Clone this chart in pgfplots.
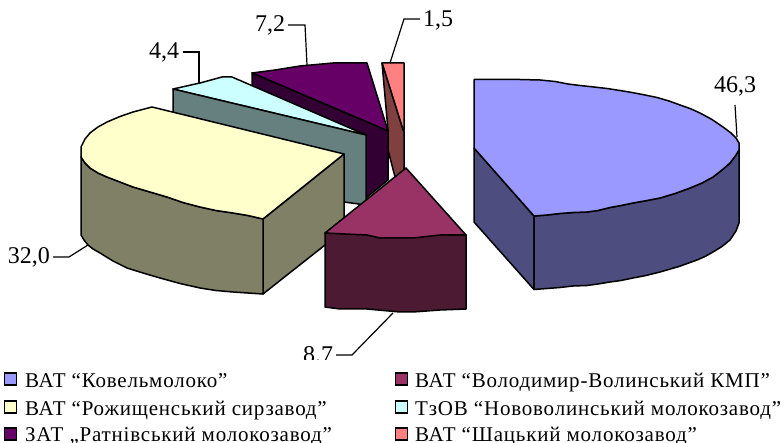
\documentclass[border=0pt]{standalone}
\usepackage{pgfplots}
\pgfplotsset{compat=1.18}
\usepackage{fontspec}
\setmainfont{Liberation Serif}
\newfontfamily\legfont[LetterSpace=3.8]{Liberation Serif}
\definecolor{cBlueT}{HTML}{9999FF}
\definecolor{cBlueS}{HTML}{4D4D80}
\definecolor{cCreamT}{HTML}{FFFFCC}
\definecolor{cCreamS}{HTML}{808066}
\definecolor{cCyanT}{HTML}{CCFFFF}
\definecolor{cCyanS}{HTML}{668080}
\definecolor{cPurpT}{HTML}{660066}
\definecolor{cPurpS}{HTML}{330033}
\definecolor{cPinkT}{HTML}{FF8080}
\definecolor{cPinkS}{HTML}{804040}
\definecolor{cMarT}{HTML}{993366}
\definecolor{cMarS}{HTML}{4D1A33}
\newcommand{\leg}[2]{\node[anchor=base west,inner sep=0pt,font=\legfont\fontsize{21}{21}\selectfont] at (axis cs:#1) {#2};}
\newcommand{\val}[2]{\node[font=\fontsize{24}{24}\selectfont,inner sep=0pt] at (axis cs:#1) {#2};}
\pgfplotsset{
  face/.style={draw=black,line width=1.5pt,fill=#1,line join=round,mark=none},
  lead/.style={draw=black,line width=1.2pt,mark=none},
  swatch/.style={only marks,mark=square*,mark size=6pt,mark options={draw=black,line width=1.4pt,fill=#1}}
}
\begin{document}
\begin{tikzpicture}
\clip (0,0) rectangle (781pt,443pt);
\begin{axis}[
  at={(0,0)},anchor=south west,
  scale only axis,width=781pt,height=443pt,
  xmin=0,xmax=781,ymin=0,ymax=443,y dir=reverse,
  hide axis,clip=true
]
% pink slice
\addplot[face=cPinkT] coordinates {(382,63)(404,63)(404,130)(403,130)} -- cycle;
\addplot[face=cPinkS] coordinates {(382,63)(403,130)(404,131)(404,172)(395,177)(388,150)(388,130)} -- cycle;
% purple slice
\addplot[face=cPurpT] coordinates {(252,73)(275,70)(300,66)(333,63)(367,63)(388,131)} -- cycle;
\addplot[face=cPurpS] coordinates {(252,73)(388,131)(388,180)(366,198)(366,135)(252,87)} -- cycle;
% cyan slice
\addplot[face=cCyanT] coordinates {(173,89)(200,83)(222,77)(232,77)(366,135)} -- cycle;
\addplot[face=cCyanS] coordinates {(173,89)(366,135)(366,205)(344,202)(173,150)} -- cycle;
% cream slice
\addplot[face=cCreamS] coordinates {(263,219)(344,154)(344,230)(263,294)} -- cycle;
\addplot[face=cCreamS] coordinates {(81,157)(85,163)(90,168)(98,173)(107,177)(120,182)(133,187)(150,192)(167,197)(183,202.5)(200,207)(216,210.5)(233,213)(248,215.5)(263,219)(263,294)(248,293)(233,292)(216,290.5)(200,288)(180,283.5)(160,278)(143,273)(127,268)(113,261)(100,253)(93,249)(88,245)(84,240)(81,235)} -- cycle;
\addplot[face=cCreamT] coordinates {(152,107)(344,154)(263,219)(248,215.5)(233,213)(216,210.5)(200,207)(183,202.5)(167,197)(150,192)(133,187)(120,182)(107,177)(98,173)(90,168)(85,163)(81,157)(81,147)(85,139)(90,133)(98,127)(107,122)(120,116.5)(133,112)} -- cycle;
% maroon slice
\addplot[face=cMarS] coordinates {(325,233)(466,235)(466,309)(440,310)(413,312)(400,312)(367,309)(340,309)(325,307)} -- cycle;
\addplot[face=cMarT] coordinates {(325,233)(406,168)(466,235)(440,235)(413,238)(380,238)(367,235)(345,234)} -- cycle;
% blue slice
\addplot[face=cBlueS] coordinates {(474,148)(534,216)(534,289.5)(474,222)} -- cycle;
\addplot[face=cBlueS] coordinates {(534,216)(547,215)(560,213.5)(573,212.5)(587,212)(598,210.5)(610,207.5)(621,205.5)(633,203)(647,200.5)(660,198)(675,193.5)(690,188)(702,183)(713,177)(722,170)(730,163)(736,155)(739,150)(739,223)(736,231)(730,240)(722,246.5)(713,252)(705,256.5)(697,260)(679,266.5)(660,272)(646,275.5)(633,278)(621,280.5)(610,282)(598,284)(587,285.5)(573,286)(560,287.5)(547,288.5)(534,289.5)} -- cycle;
\addplot[face=cBlueT] coordinates {(474,79.5)(500,79.5)(520,79.5)(540,80)(555,81.5)(568,84)(580,85.5)(594,87)(607,88.5)(620,90.5)(632,92.5)(645,95)(657,97.5)(669,101)(680,105)(690,108.5)(700,113)(712,119.5)(723,127)(731,133)(736,138)(739,143)(739,150)(736,155)(730,163)(722,170)(713,177)(702,183)(690,188)(675,193.5)(660,198)(647,200.5)(633,203)(621,205.5)(610,207.5)(598,210.5)(587,212)(573,212.5)(560,213.5)(547,215)(534,216)(474,148)} -- cycle;
% leader lines
\addplot[lead] coordinates {(735,105)(737,137)};
\addplot[lead] coordinates {(390,63)(404,19)(420,19)};
\addplot[lead] coordinates {(307,65)(305,25)(288,25)};
\addplot[lead] coordinates {(199,83)(199,52)(183,52)};
\addplot[lead] coordinates {(88,245)(69,257)(53,257)};
\addplot[lead] coordinates {(393,313)(352,355)(336,355)};
% value labels
\val{735,86}{46,3}
\val{438,20}{1,5}
\val{270,25}{7,2}
\val{164,52}{4,4}
\val{29,257}{32,0}
\val{318,355}{8.7}
% legend panel
\addplot[draw=none,fill=white,mark=none] coordinates {(0,360)(781,360)(781,443)(0,443)} -- cycle;
\addplot[swatch=cBlueT] coordinates {(10.5,379)};
\addplot[swatch=cCreamT] coordinates {(10.5,407)};
\addplot[swatch=cPurpT] coordinates {(10.5,434)};
\addplot[swatch=cMarT] coordinates {(401.5,379)};
\addplot[swatch=cCyanT] coordinates {(401.5,407)};
\addplot[swatch=cPinkT] coordinates {(401.5,434)};
\leg{25,387}{ВАТ “Ковельмолоко”}
\leg{25,415}{ВАТ “Рожищенський сирзавод”}
\leg{25,441}{ЗАТ „Ратнівський молокозавод”}
\leg{415,387}{ВАТ “Володимир-Волинський КМП”}
\leg{415,415}{ТзОВ “Нововолинський молокозавод”}
\leg{415,441}{ВАТ “Шацький молокозавод”}
\end{axis}
\end{tikzpicture}
\end{document}
